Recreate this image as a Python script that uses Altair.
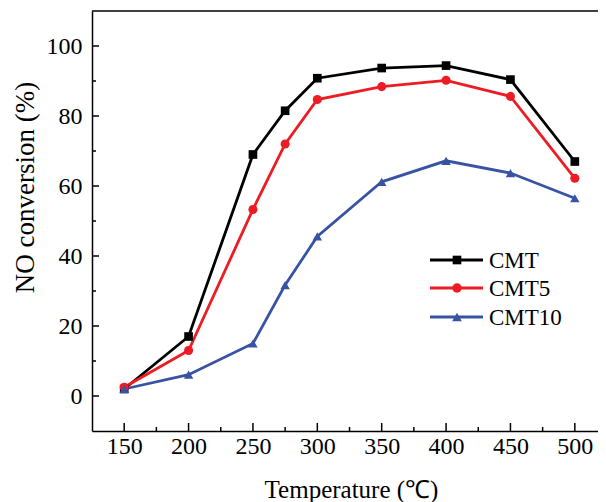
import altair as alt
import pandas as pd

temps = [150, 200, 250, 275, 300, 350, 400, 450, 500]
cmt = [2.0, 17.0, 69.0, 81.5, 90.8, 93.7, 94.4, 90.4, 67.0]
cmt5 = [2.5, 13.0, 53.3, 72.0, 84.7, 88.4, 90.2, 85.6, 62.2]
cmt10 = [2.0, 6.1, 15.0, 31.7, 45.6, 61.2, 67.2, 63.7, 56.5]

names = ["CMT", "CMT5", "CMT10"]
colors = ["#000000", "#ed1c24", "#3953a4"]
shapes = ["square", "circle", "triangle-up"]
sizes = [75, 90, 95]

x_major = [150, 200, 250, 300, 350, 400, 450, 500]
x_minor = [175, 225, 275, 325, 375, 425, 475]
y_major = [0, 20, 40, 60, 80, 100]
y_minor = [10, 30, 50, 70, 90]

FONT = "Liberation Serif"
W, H = 506, 420

rows = []
for n, vals in zip(names, [cmt, cmt5, cmt10]):
    for t, v in zip(temps, vals):
        rows.append({"temp": t, "value": v, "series": n})
df = pd.DataFrame(rows)

xs = alt.Scale(domain=[125, 518], nice=False, zero=False)
ys = alt.Scale(domain=[-10, 110], nice=False, zero=False)
cs = alt.Scale(domain=names, range=colors)
ss = alt.Scale(domain=names, range=shapes)
zs = alt.Scale(domain=names, range=sizes)

x_axis = alt.Axis(values=x_major, ticks=False, grid=False, domainColor="black", domainWidth=1.5,
                  labelFont=FONT, labelFontSize=24, labelColor="black", labelPadding=3,
                  title="Temperature (℃)", titleFont=FONT, titleFontSize=25, titleFontWeight="normal",
                  titleColor="black", titleX=259, titleY=66, titleBaseline="alphabetic")
y_axis = alt.Axis(values=y_major, ticks=False, grid=False, domainColor="black", domainWidth=1.5,
                  labelFont=FONT, labelFontSize=24, labelColor="black", labelPadding=10,
                  title="NO conversion (%)", titleFont=FONT, titleFontSize=27, titleFontWeight="normal",
                  titleColor="black", titleX=-59, titleY=176, titleBaseline="alphabetic")

lines = alt.Chart(df).mark_line(strokeWidth=2.8).encode(
    x=alt.X("temp:Q", scale=xs, axis=x_axis),
    y=alt.Y("value:Q", scale=ys, axis=y_axis),
    color=alt.Color("series:N", scale=cs, legend=None),
    detail="series:N",
)
points = alt.Chart(df).mark_point(filled=True, opacity=1).encode(
    x=alt.X("temp:Q", scale=xs),
    y=alt.Y("value:Q", scale=ys),
    color=alt.Color("series:N", scale=cs, legend=None),
    shape=alt.Shape("series:N", scale=ss, legend=None),
    size=alt.Size("series:N", scale=zs, legend=None),
)

# inward ticks
ymaj = alt.Chart(pd.DataFrame({"v": y_major})).mark_rule(color="black", strokeWidth=1.5).encode(
    y=alt.Y("v:Q", scale=ys), x=alt.value(0), x2=alt.value(7))
ymin = alt.Chart(pd.DataFrame({"v": y_minor})).mark_rule(color="black", strokeWidth=1.5).encode(
    y=alt.Y("v:Q", scale=ys), x=alt.value(0), x2=alt.value(4))
xmaj = alt.Chart(pd.DataFrame({"v": x_major})).mark_rule(color="black", strokeWidth=1.5).encode(
    x=alt.X("v:Q", scale=xs), y=alt.value(H), y2=alt.value(H - 8))
xmin = alt.Chart(pd.DataFrame({"v": x_minor})).mark_rule(color="black", strokeWidth=1.5).encode(
    x=alt.X("v:Q", scale=xs), y=alt.value(H), y2=alt.value(H - 4))
top = alt.Chart(pd.DataFrame({"a": [0]})).mark_rule(color="black", strokeWidth=1.5).encode(
    x=alt.value(0), x2=alt.value(W + 10), y=alt.value(0))

# legend
leg_layers = []
leg_y = [249, 277, 306]
for n, c, s, z, ly in zip(names, colors, shapes, sizes, leg_y):
    ldf = pd.DataFrame({"series": [n]})
    leg_layers.append(alt.Chart(ldf).mark_rule(color=c, strokeWidth=2.8).encode(
        x=alt.value(338), x2=alt.value(391), y=alt.value(ly)))
    leg_layers.append(alt.Chart(ldf).mark_point(filled=True, opacity=1, size=z, color=c, shape=s).encode(
        x=alt.value(365), y=alt.value(ly)))
    leg_layers.append(alt.Chart(ldf).mark_text(align="left", baseline="middle", font=FONT, fontSize=23,
                                               color="black").encode(
        x=alt.value(397), y=alt.value(ly + 1), text="series:N"))

chart = alt.layer(lines, points, ymaj, ymin, xmaj, xmin, top, *leg_layers).properties(
    width=W, height=H,
    autosize=alt.AutoSizeParams(type="none"),
    padding={"left": 84, "top": 3, "right": 0, "bottom": 80},
).configure(font=FONT).configure_axis(labelFont=FONT, titleFont=FONT).configure_view(stroke=None)

chart.save("out.html", embed_options={"renderer": "svg", "actions": False})
